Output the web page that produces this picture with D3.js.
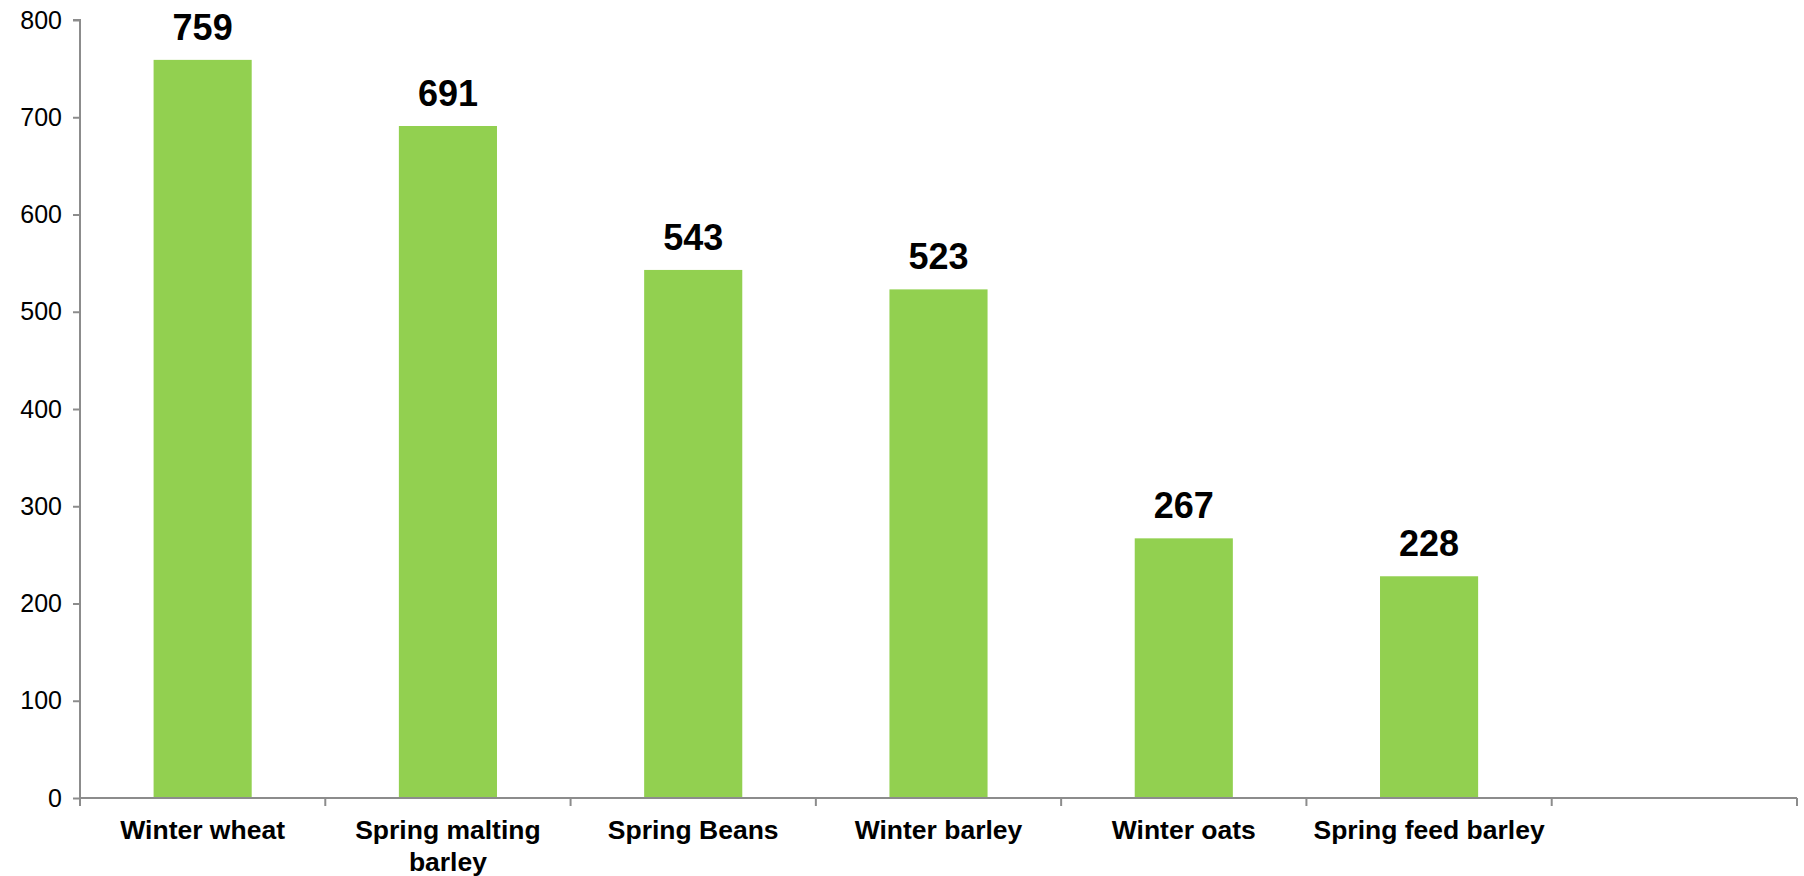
<!DOCTYPE html>
<html>
<head>
<meta charset="utf-8">
<script src="https://cdn.jsdelivr.net/npm/d3@7"></script>
<style>
  body { margin: 0; background: #fff; }
  text { font-family: "Liberation Sans", Arial, Helvetica, sans-serif; }
</style>
</head>
<body>
<div id="chart"></div>
<script>
// data
const crops = ["Winter wheat", "Spring malting barley", "Spring Beans", "Winter barley", "Winter oats", "Spring feed barley", ""];
const values = [759, 691, 543, 523, 267, 228, null];
const yTicks = [0, 100, 200, 300, 400, 500, 600, 700, 800];

const margin = {top: 20, right: 7, bottom: 78, left: 80},
    width = 1804 - margin.left - margin.right,
    height = 876 - margin.top - margin.bottom;

const svg = d3.select("#chart")
  .append("svg")
    .attr("width", 1804)
    .attr("height", 876)
  .append("g")
    .attr("transform", `translate(${margin.left}, ${margin.top})`);

// one band per category (last one is empty)
const xb = d3.scaleBand()
  .domain(crops.map((d, i) => i))
  .range([0, width]);

const y = d3.scaleLinear()
  .domain([0, 800])
  .range([height, 0]);

const axisColor = "#8c8c8c";

// y axis
const yAxis = svg.append("g")
  .call(d3.axisLeft(y).tickValues(yTicks).tickSize(7).tickPadding(11));
yAxis.select(".domain").attr("stroke", axisColor).attr("stroke-width", 2)
  .attr("d", `M-7,${y(800)}H0V${y(0)}`);
yAxis.selectAll(".tick line").attr("stroke", axisColor).attr("stroke-width", 2);
yAxis.selectAll(".tick text")
  .style("font-size", "25px")
  .attr("fill", "#000");

// bars
svg.selectAll(".bar")
  .data(values.map((v, i) => ({v, i})).filter(d => d.v != null))
  .enter()
  .append("rect")
    .attr("class", "bar")
    .attr("x", d => xb(d.i) + (xb.bandwidth() - xb.bandwidth() * 0.4) / 2)
    .attr("width", xb.bandwidth() * 0.4)
    .attr("y", d => y(d.v))
    .attr("height", d => height - y(d.v))
    .attr("fill", "#92d050");

// value labels
svg.selectAll(".val")
  .data(values.map((v, i) => ({v, i})).filter(d => d.v != null))
  .enter()
  .append("text")
    .attr("class", "val")
    .attr("x", d => xb(d.i) + xb.bandwidth() / 2)
    .attr("y", d => y(d.v) - 20)
    .attr("text-anchor", "middle")
    .style("font-size", "36px")
    .style("font-weight", "bold")
    .text(d => d.v);

// x axis line and ticks
const xg = svg.append("g").attr("transform", `translate(0, ${height})`);
xg.append("line")
  .attr("x1", 0).attr("x2", width)
  .attr("stroke", axisColor).attr("stroke-width", 2);
xg.selectAll(".xt")
  .data(d3.range(crops.length + 1))
  .enter()
  .append("line")
    .attr("x1", i => i * xb.step()).attr("x2", i => i * xb.step())
    .attr("y1", 0).attr("y2", 8)
    .attr("stroke", axisColor).attr("stroke-width", 2);

// category labels, wrapped to the band width
function wrap(label, maxW) {
  const words = label.split(" ");
  const lines = [];
  let line = [];
  const probe = svg.append("text").style("font-size", "26.5px").style("font-weight", "bold");
  words.forEach(w => {
    line.push(w);
    probe.text(line.join(" "));
    if (probe.node().getComputedTextLength() > maxW && line.length > 1) {
      line.pop();
      lines.push(line.join(" "));
      line = [w];
    }
  });
  lines.push(line.join(" "));
  probe.remove();
  return lines;
}

crops.forEach((c, i) => {
  if (!c) return;
  const t = xg.append("text")
    .attr("text-anchor", "middle")
    .attr("x", xb(i) + xb.bandwidth() / 2)
    .attr("y", 41)
    .style("font-size", "26.5px")
    .style("font-weight", "bold")
    .attr("fill", "#000");
  wrap(c, xb.bandwidth() - 8).forEach((l, k) => {
    t.append("tspan")
      .attr("x", xb(i) + xb.bandwidth() / 2)
      .attr("dy", k === 0 ? 0 : 32)
      .text(l);
  });
});
</script>
</body>
</html>
